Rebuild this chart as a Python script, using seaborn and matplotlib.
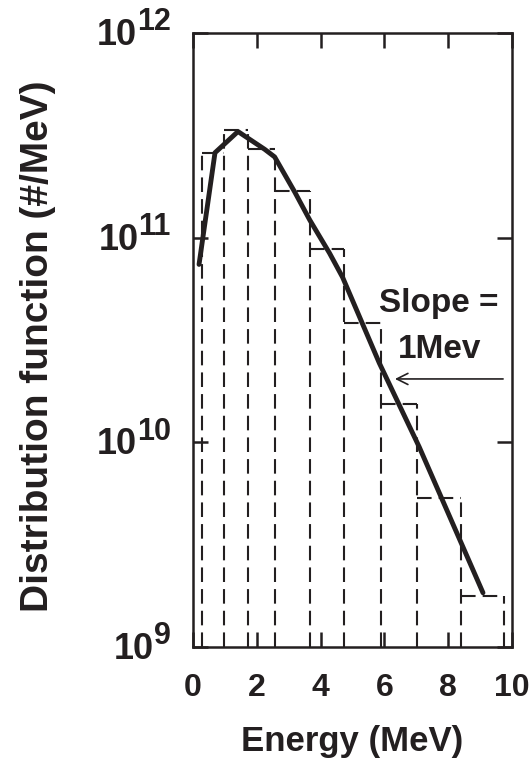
import matplotlib
matplotlib.use("Agg")
import matplotlib.pyplot as plt
from matplotlib.transforms import ScaledTranslation
import seaborn as sns
import numpy as np
import pandas as pd

# ---- data ----
bin_edges = [0.28, 0.97, 1.72, 2.56, 3.66, 4.72, 5.9, 7.03, 8.4, 9.75]
bin_heights = [2.6e11, 3.36e11, 2.71e11, 1.69e11, 8.8e10, 3.83e10, 1.54e10, 5.35e9, 1.78e9]

curve_energy = [0.19, 0.69, 1.41, 2.25, 2.56, 3.19, 3.66, 4.28, 4.69, 5.84, 7.09, 9.09]
curve_dist = [7.4e10, 2.6e11, 3.3e11, 2.7e11, 2.48e11, 1.67e11, 1.22e11, 8.4e10, 6.4e10, 2.44e10, 9.5e9, 1.84e9]

x_ticks = [0, 2, 4, 6, 8, 10]
y_exponents = [9, 10, 11, 12]

INK = "#231f20"

sns.set_style("ticks")
plt.rcParams["font.family"] = ["Liberation Sans", "DejaVu Sans"]
plt.rcParams["font.weight"] = "bold"

fig = plt.figure(figsize=(5.29, 7.60), dpi=100)
ax = fig.add_axes([0.3648, 0.1487, 0.6031, 0.8079])
ax.set_yscale("log")

# dashed histogram outline: vertical edges up to the taller neighbour, tops
padded = [0.0] + bin_heights + [0.0]
edge_tops = [max(padded[i], padded[i + 1]) for i in range(len(bin_edges))]
dash = (0, (7, 3.4))
ax.vlines(bin_edges, 1e9, edge_tops, colors=INK, linewidth=1.5, linestyles=[dash])
ax.hlines(bin_heights, bin_edges[:-1], bin_edges[1:], colors=INK, linewidth=1.5,
          linestyles=[dash])

curve_df = pd.DataFrame({"energy": curve_energy, "dist": curve_dist})
sns.lineplot(data=curve_df, x="energy", y="dist", sort=False, ax=ax,
             color=INK, linewidth=3.5)

ax.set_xlim(0, 10)
ax.set_ylim(1e9, 1e12)
ax.set_xticks(x_ticks)
ax.set_xticklabels([str(t) for t in x_ticks])
ax.set_yticks([10.0 ** e for e in y_exponents])
ax.set_yticklabels([""] * len(y_exponents))
ax.minorticks_off()

for s in ax.spines.values():
    s.set_linewidth(1.8)
    s.set_color(INK)
    s.set_visible(True)

ax.tick_params(axis="both", which="major", direction="in", length=11, width=1.8,
               color=INK, labelcolor=INK, top=True, right=True)
ax.tick_params(axis="x", labelsize=23, pad=19)

ax.set_xlabel("Energy (MeV)", fontsize=25, fontweight="bold", color=INK)
ax.xaxis.set_label_coords(0.5, -0.127)
ax.set_ylabel("Distribution function (#/MeV)", fontsize=28, fontweight="bold",
              color=INK)
ax.yaxis.set_label_coords(-0.43, 0.49)

ax.text(7.71, 4.34e10, "Slope =", fontsize=24, fontweight="bold", color=INK,
        ha="center", va="baseline")
ax.text(7.74, 2.58e10, "1Mev", fontsize=24, fontweight="bold", color=INK,
        ha="center", va="baseline")
ax.annotate("", xy=(6.33, 2.04e10), xytext=(9.72, 2.04e10),
            arrowprops=dict(arrowstyle="->", color=INK, lw=1.2,
                            mutation_scale=20, shrinkA=0, shrinkB=0))

# y tick labels as 10 with large superscript exponents
fig.canvas.draw()
renderer = fig.canvas.get_renderer()
ytrans = ax.get_yaxis_transform()
for e in y_exponents:
    v = 10.0 ** e
    sup = ax.text(0, v, str(e), fontsize=22, fontweight="bold", color=INK,
                  ha="right", va="baseline",
                  transform=ytrans + ScaledTranslation(-22 / 100, 2.5 / 100,
                                                       fig.dpi_scale_trans))
    w = sup.get_window_extent(renderer).width
    ax.text(0, v, "10", fontsize=26, fontweight="bold", color=INK,
            ha="right", va="baseline",
            transform=ytrans + ScaledTranslation((-22 - w) / 100, -12 / 100,
                                                 fig.dpi_scale_trans))

fig.savefig("out.png", dpi=100)
